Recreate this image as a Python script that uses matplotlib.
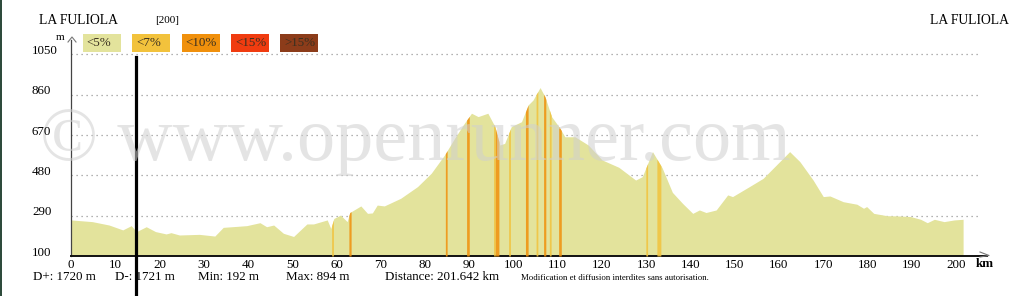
import numpy as np
import matplotlib
matplotlib.use("Agg")
import matplotlib.pyplot as plt
from matplotlib.patches import Rectangle
from matplotlib.lines import Line2D

plt.rcParams['font.family'] = ['Liberation Serif', 'DejaVu Serif']

W, H = 1024, 296

# elevation profile
km = [0, 4.8, 8.6, 11.7, 13.6, 14.8, 17, 19.1, 21.5, 22.6, 24.5, 29, 32.5, 34.4,
      39.7, 42.7, 44.2, 45.8, 48, 50.3, 53.3, 54.8, 57.9, 58.7, 59.4, 60.9, 62.4,
      63, 65.5, 67, 68.1, 69.2, 70.8, 74.5, 78.3, 81.4, 84.4, 86.7, 88.9, 90.5,
      92, 94.2, 95.8, 96.9, 98, 99.5, 101.8, 103.3, 104.4, 106, 107.1, 108.6,
      110.5, 111.6, 113.9, 116.9, 120, 123.8, 127.6, 129.1, 131.4, 133.6, 135.9,
      138.2, 140.5, 142, 143.5, 145.8, 148.4, 149.5, 153.3, 156.4, 159.4, 162.4,
      164.7, 167.7, 170, 171.5, 174.5, 177.6, 179.1, 179.8, 181.4, 184.4, 186.7,
      189.7, 192, 193.5, 195.1, 197.3, 199.6, 201.6]
elev = [270, 262, 246, 223, 243, 215, 238, 215, 204, 210, 199, 202, 194, 235,
        243, 257, 238, 246, 207, 192, 251, 251, 270, 230, 277, 293, 262,
        305, 336, 301, 303, 340, 336, 372, 427, 490, 576, 655, 726, 773,
        757, 773, 710, 623, 631, 710, 733, 812, 835, 894, 851, 757,
        702, 662, 662, 623, 553, 518, 458, 474, 592, 515, 400,
        348, 301, 317, 305, 317, 388, 380, 427, 466, 529, 592,
        545, 458, 380, 383, 356, 344, 325, 333, 301, 290, 289,
        286, 273, 257, 273, 262, 270, 273]

# steeper sections
band_start = [58.9, 62.8, 84.6, 89.4, 95.5, 95.9, 98.9, 102.7, 105.1, 106.8, 108.1, 110.2, 129.9, 132.4]
band_end   = [59.3, 63.3, 85.0, 90.0, 95.9, 96.7, 99.3, 103.3, 105.5, 107.3, 108.5, 110.8, 130.3, 133.3]
band_class = ['<7%', '<10%', '<10%', '<10%', '<7%', '<10%', '<7%', '<10%', '<7%', '<10%', '<7%', '<10%', '<7%', '<7%']

classes = ['<5%', '<7%', '<10%', '<15%', '>15%']
class_colors = ['#e3e39c', '#f2c23c', '#f0900c', '#f03c10', '#8c3c1a']
col = dict(zip(classes, class_colors))

yticks = [100, 290, 480, 670, 860, 1050]
xticks = list(range(0, 201, 10))

stats = ['D+: 1720 m', 'D-: 1721 m', 'Min: 192 m', 'Max: 894 m', 'Distance: 201.642 km']
stats_x = [33, 115, 198, 286, 385]

cursor_km = 14.7


def fx(x):
    return x / W


def fy(y):
    return 1 - y / H


fig = plt.figure(figsize=(W / 100, H / 100), dpi=100)
fig.patch.set_facecolor('white')
ax = fig.add_axes([fx(71), fy(256), 916 / W, (256 - 39.6) / H])
ax.set_xlim(0, 207)
ax.set_ylim(100, 1120)

for s in ['top', 'right']:
    ax.spines[s].set_visible(False)
ax.spines['left'].set_color('#444444')
ax.spines['left'].set_linewidth(0.9)
ax.spines['bottom'].set_color('#111111')
ax.spines['bottom'].set_linewidth(1.4)

# dotted grid
ax.hlines(yticks[1:], 0, 205.5, colors='#999999', linestyles=(0, (1, 3)), linewidth=0.9, zorder=1)

# profile
ax.fill_between(km, 100, elev, color=col['<5%'], linewidth=0, zorder=2)
for s, e, c in zip(band_start, band_end, band_class):
    xs = np.linspace(s, e, 12)
    ax.fill_between(xs, 100, np.interp(xs, km, elev), color=col[c], linewidth=0,
                    alpha=0.85, zorder=3)

# ticks
ax.set_yticks([])
ax.set_xticks(xticks)
ax.set_xticklabels([str(t) for t in xticks], fontsize=9.4)
ax.tick_params(axis='x', length=0, pad=2.5)
for t in yticks:
    yp = 256 - (t - 100) * (256 - 39.6) / 1020 - 3.5
    fig.text(fx(32), fy(yp), str(t), fontsize=9.4, ha='left', va='center', zorder=11)

# watermark
fig.text(fx(40), fy(160), '\u00a9 www.openrunner.com', fontsize=55, color='#cfcfcf',
         alpha=0.55, ha='left', va='baseline', zorder=10)

# cursor
ax.plot([cursor_km, cursor_km], [1038, -100], color='black', lw=2.3, clip_on=False, zorder=12)

# axis arrow heads
fig.add_artist(Line2D([fx(68), fx(72), fx(76)], [fy(42), fy(37), fy(42)], color='#777777', lw=0.8))
fig.add_artist(Line2D([fx(980), fx(989), fx(980)], [fy(252), fy(255.5), fy(257)], color='#777777', lw=0.8))
fig.text(fx(985), fy(264), 'km', fontsize=9.4, fontweight='bold', ha='center', va='center')
fig.text(fx(60), fy(38), 'm', fontsize=8, ha='center', va='center')

# titles
fig.text(fx(39), fy(20), 'LA FULIOLA', fontsize=9.8, ha='left', va='center')
fig.text(fx(155), fy(20.5), '[200]', fontsize=8, ha='left', va='center')
fig.text(fx(1009), fy(20), 'LA FULIOLA', fontsize=9.8, ha='right', va='center')

# legend boxes
for i, (c, cc) in enumerate(zip(classes, class_colors)):
    x0 = 82.7 + i * 49.4
    fig.add_artist(Rectangle((fx(x0), fy(51.7)), 38 / W, 17.7 / H, transform=fig.transFigure,
                             facecolor=cc, edgecolor='none'))
    fig.text(fx(x0 + 4), fy(43), c, fontsize=9.4, color='#3a3020', ha='left', va='center')

# stats line
for s, x in zip(stats, stats_x):
    fig.text(fx(x), fy(277.5), s, fontsize=9.4, ha='left', va='center')
fig.text(fx(521), fy(278.5), 'Modification et diffusion interdites sans autorisation.',
         fontsize=6.3, ha='left', va='center')

# left border
fig.add_artist(Rectangle((0, 0), 2 / W, 1, transform=fig.transFigure, facecolor='#2e4b3c', edgecolor='none'))

fig.savefig('out.png', dpi=100)
